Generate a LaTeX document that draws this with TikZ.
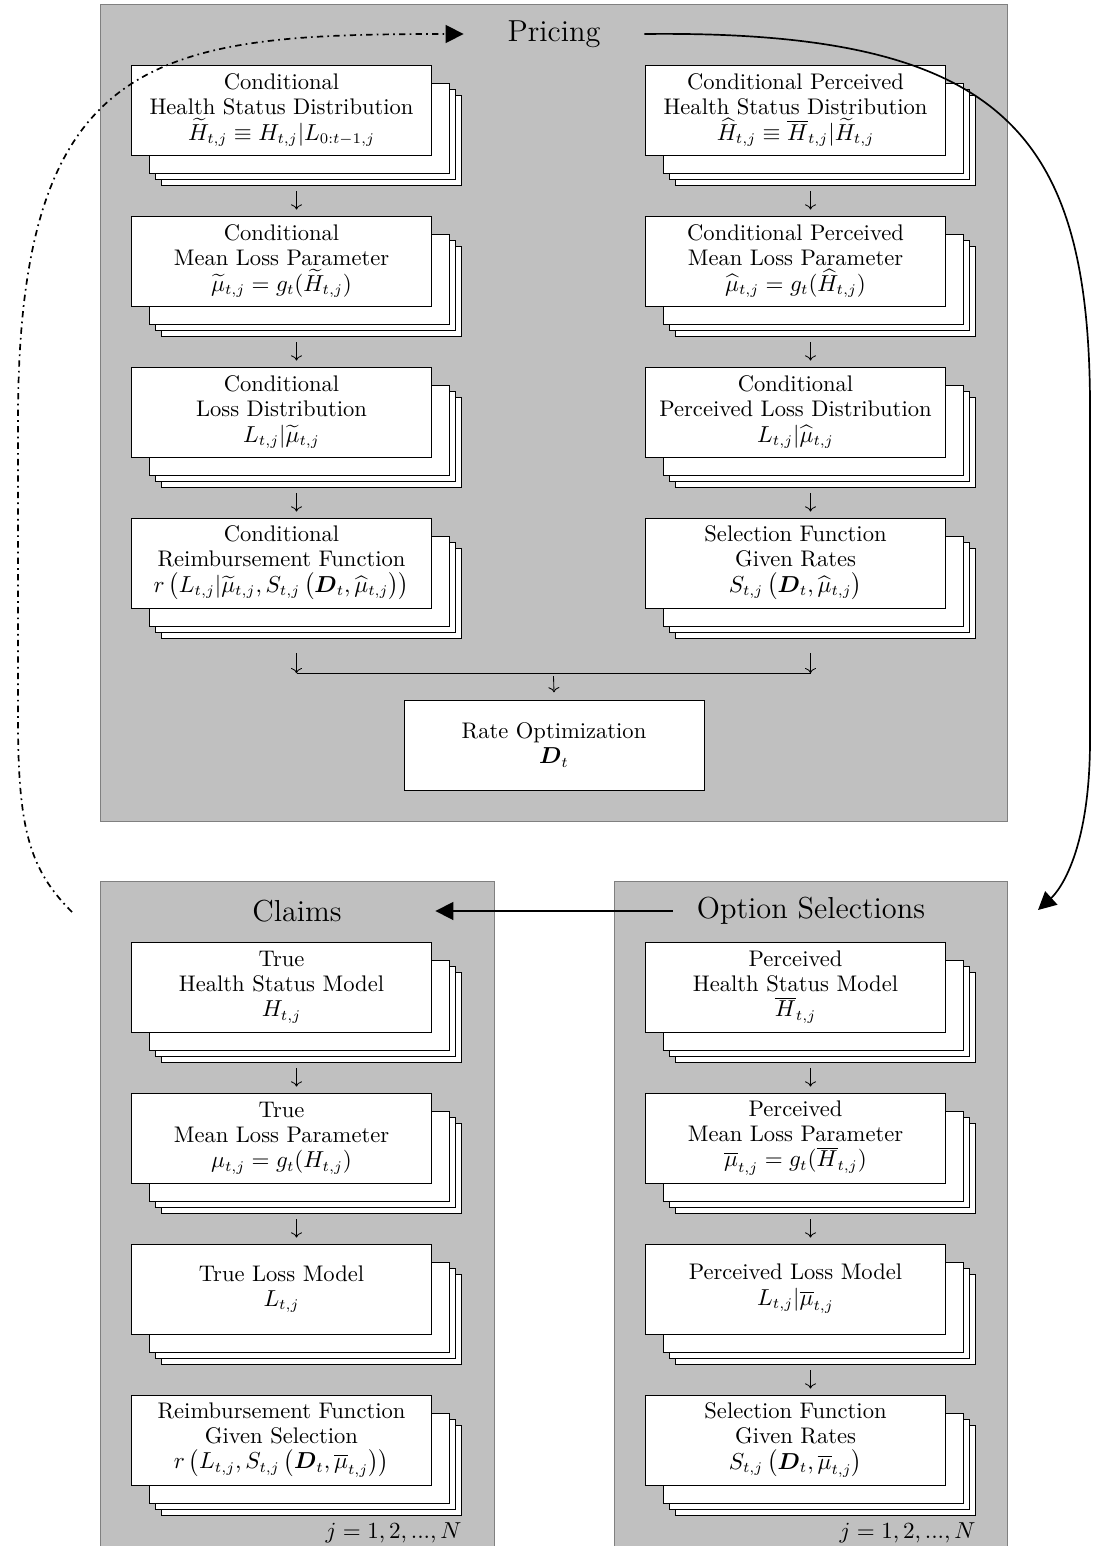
\documentclass[tikz,border=0pt]{standalone}
\usepackage{amsmath,amssymb}
\usepackage{tikz}
\usetikzlibrary{arrows.meta,shadows,positioning,calc}
\definecolor{panelgray}{RGB}{192,192,192}

\tikzset{
  panel/.style={draw=gray, fill=panelgray},
  card/.style={draw, fill=white, minimum width=5cm, minimum height=1.5cm, align=center,
    font=\fontsize{10.7pt}{12pt}\selectfont},
  stack/.style={card,
    copy shadow={shadow xshift=5mm, shadow yshift=-5mm, draw, fill=white},
    copy shadow={shadow xshift=4mm, shadow yshift=-4mm, draw, fill=white},
    copy shadow={shadow xshift=3mm, shadow yshift=-3mm, draw, fill=white}},
  title/.style={font=\Large},
  flow/.style={->},
  bigtip/.style={thick, -{Triangle[length=3mm, width=3mm]}},
}

\begin{document}
\begin{tikzpicture}[x=0.4742pt, y=-0.4742pt]
            \useasboundingbox (0,0) rectangle (1092,1546);

            % Panels
            \draw[panel] (100,4) rectangle (1007,821);
            \draw[panel] (100,881) rectangle (494,1550);
            \draw[panel] (614,881) rectangle (1007,1550);

            % Titles
            \node[title, minimum width=3cm] (pricing) at (554,34) {Pricing};
            \node[title, minimum width=4.6cm] (claims) at (297,911) {Claims};
            \node[title, minimum width=4.6cm] (options) at (811,911) {Option Selections};

            % Pricing: conditional models
            \node[stack] (chs) at (281.5,110) {Conditional\\Health Status Distribution\\$\widetilde{H}_{t,j} \equiv H_{t,j}|L_{0:t-1,j}$};
            \node[stack] (cmu) at (281.5,261) {Conditional\\Mean Loss Parameter\\$\widetilde{\mu}_{t,j} = g_t(\widetilde{H}_{t,j})$};
            \node[stack] (closs) at (281.5,412) {Conditional\\Loss Distribution\\$L_{t,j}|\widetilde{\mu}_{t,j}$};
            \node[stack] (creimb) at (281.5,563) {Conditional\\Reimbursement Function\\$r\,\bigl(L_{t,j}|\widetilde{\mu}_{t,j}, S_{t,j}\,\bigl(\boldsymbol{D}_t, \widehat{\mu}_{t,j}\bigr)\bigr)$};

            % Pricing: conditional perceived models
            \node[stack] (cphs) at (795.5,110) {Conditional Perceived\\Health Status Distribution\\$\widehat{H}_{t,j} \equiv \overline{H}_{t,j}|\widetilde{H}_{t,j}$};
            \node[stack] (cpmu) at (795.5,261) {Conditional Perceived\\Mean Loss Parameter\\$\widehat{\mu}_{t,j} = g_t(\widehat{H}_{t,j})$};
            \node[stack] (cploss) at (795.5,412) {Conditional\\Perceived Loss Distribution\\$L_{t,j}|\widehat{\mu}_{t,j}$};
            \node[stack] (cpsel) at (795.5,563) {Selection Function\\Given Rates\\$S_{t,j}\,\bigl(\boldsymbol{D}_t, \widehat{\mu}_{t,j}\bigr)$};

            % Rate optimization
            \node[card] (rate) at (554,745) {Rate Optimization\\$\boldsymbol{D}_t$};

            % Claims
            \node[stack] (ths) at (281.5,987) {True\\Health Status Model\\$H_{t,j}$};
            \node[stack] (tmu) at (281.5,1138) {True\\Mean Loss Parameter\\$\mu_{t,j} = g_t(H_{t,j})$};
            \node[stack] (tloss) at (281.5,1289) {True Loss Model\\$L_{t,j}$};
            \node[stack] (treimb) at (281.5,1440) {Reimbursement Function\\Given Selection\\$r\,\bigl(L_{t,j}, S_{t,j}\,\bigl(\boldsymbol{D}_t, \overline{\mu}_{t,j}\bigr)\bigr)$};

            % Option selections
            \node[stack] (phs) at (795.5,987) {Perceived\\Health Status Model\\$\overline{H}_{t,j}$};
            \node[stack] (pmu) at (795.5,1138) {Perceived\\Mean Loss Parameter\\$\overline{\mu}_{t,j} = g_t(\overline{H}_{t,j})$};
            \node[stack] (ploss) at (795.5,1289) {Perceived Loss Model\\$L_{t,j}|\overline{\mu}_{t,j}$};
            \node[stack] (psel) at (795.5,1440) {Selection Function\\Given Rates\\$S_{t,j}\,\bigl(\boldsymbol{D}_t, \overline{\mu}_{t,j}\bigr)$};

            % Index labels
            \node[anchor=north east, inner xsep=0pt, font=\fontsize{10.7pt}{12pt}\selectfont] (jl) at ([xshift=5mm,yshift=-5mm]treimb.south east) {$j=1,2,...,N$};
            \node[anchor=north east, inner xsep=0pt, font=\fontsize{10.7pt}{12pt}\selectfont] (jr) at ([xshift=5mm,yshift=-5mm]psel.south east) {$j=1,2,...,N$};

            % Arrows down the columns
            \foreach \a/\b in {chs/cmu, cmu/closs, closs/creimb, cphs/cpmu, cpmu/cploss, cploss/cpsel, ths/tmu, tmu/tloss, phs/pmu, pmu/ploss, ploss/psel}
                \draw[flow] ([xshift=2.5mm,yshift=-6mm]\a.south) -- ([xshift=2.5mm,yshift=1mm]\b.north);

            % Merge into rate optimization
            \coordinate (mergel) at ([xshift=2.5mm,yshift=-10.8mm]creimb.south);
            \coordinate (merger) at ([xshift=2.5mm,yshift=-10.8mm]cpsel.south);
            \draw[flow] ([xshift=2.5mm,yshift=-7.5mm]creimb.south) -- (mergel);
            \draw[flow] ([xshift=2.5mm,yshift=-7.5mm]cpsel.south) -- (merger);
            \draw (mergel) -- (merger);
            \draw[flow] ($(mergel)!0.5!(merger)+(0,3)$) -- ([yshift=1.2mm]rate.north);

            % Loop between the stages
            \coordinate (selin) at (1038,910);
            \coordinate (claimsout) at (72,912);
            \draw[bigtip] (options.west) -- (claims.east);
            \draw[bigtip] (pricing.east) .. controls (1000,30) and (1088,130) .. (1090,400)
                -- (1090,740) .. controls (1090,850) and (1060,890) .. (selin);
            \draw[bigtip, dash dot] (claimsout) .. controls (30,870) and (18,830) .. (18,720)
                -- (18,420) .. controls (18,50) and (160,34) .. (pricing.west);
        \end{tikzpicture}
\end{document}
